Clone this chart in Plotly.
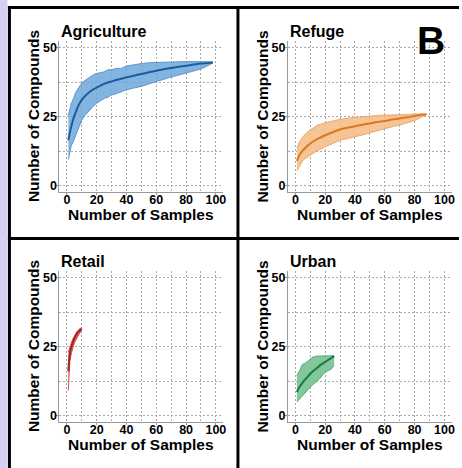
import plotly.graph_objects as go

# ---------------- data ----------------
panel_names = ["Agriculture", "Refuge", "Retail", "Urban"]

agri_x = [1, 2, 3, 4, 5, 6, 8, 10, 12, 15, 18, 20, 25, 28, 30, 33, 36, 40, 45, 50, 55, 60, 65, 70, 75, 80, 85, 90, 95, 98]
agri_mean = [16.4, 19.2, 21.5, 23.5, 25.2, 26.6, 29.2, 31.0, 32.3, 33.8, 34.9, 35.5, 36.8, 37.4, 37.7, 38.2, 38.6, 39.2, 39.8, 40.4, 41.0, 41.6, 42.1, 42.6, 43.0, 43.4, 43.8, 44.2, 44.4, 44.6]
agri_upper = [25.5, 28.0, 29.8, 31.0, 32.5, 33.8, 35.5, 37.1, 38.0, 39.2, 40.2, 40.6, 41.2, 42.0, 41.9, 42.4, 42.3, 43.3, 43.8, 44.2, 44.5, 44.6, 44.8, 44.9, 44.9, 44.9, 44.9, 44.9, 44.9, 44.8]
agri_lower = [9.4, 12.5, 14.5, 15.5, 17.0, 18.5, 21.2, 23.7, 25.3, 27.3, 28.9, 29.8, 31.5, 32.1, 32.8, 33.2, 33.9, 34.7, 35.3, 35.9, 36.8, 37.7, 38.5, 39.3, 40.0, 40.8, 41.5, 42.2, 43.5, 44.4]

refuge_x = [1, 2, 3, 5, 7, 10, 13, 15, 20, 25, 30, 35, 40, 45, 50, 55, 60, 65, 70, 75, 80, 85, 88]
refuge_mean = [8.9, 10.2, 11.2, 12.7, 13.8, 15.2, 16.3, 16.9, 18.2, 19.3, 20.3, 20.9, 21.5, 22.0, 22.5, 23.0, 23.4, 23.9, 24.3, 24.7, 25.2, 25.6, 25.8]
refuge_upper = [13.6, 15.0, 16.0, 17.6, 18.8, 20.1, 21.3, 21.9, 22.7, 23.4, 24.0, 24.4, 24.7, 25.0, 25.2, 25.4, 25.5, 25.5, 25.6, 25.7, 25.9, 26.0, 25.9]
refuge_lower = [5.3, 6.4, 7.3, 9.1, 9.9, 10.9, 12.2, 12.7, 14.0, 15.3, 16.4, 17.0, 17.6, 18.3, 19.1, 19.9, 20.7, 21.3, 21.9, 22.7, 23.5, 24.9, 25.7]

retail_x = [1, 2, 3, 4, 5, 6, 7, 8, 9, 10]
retail_mean = [16.0, 22.5, 24.8, 26.5, 27.8, 28.9, 29.8, 30.5, 31.0, 31.4]
retail_upper = [23.0, 25.0, 26.4, 27.7, 28.9, 29.8, 30.6, 31.2, 31.6, 31.7]
retail_lower = [9.0, 19.5, 22.4, 24.5, 26.1, 27.3, 28.4, 29.4, 30.3, 31.1]

urban_x = [1, 2, 3, 4, 5, 6, 7, 8, 10, 12, 14, 16, 18, 20, 22, 24, 26]
urban_mean = [8.5, 9.6, 10.5, 11.3, 12.0, 12.7, 13.3, 13.9, 15.1, 16.1, 17.0, 17.9, 18.7, 19.4, 20.1, 20.8, 21.5]
urban_upper = [14.6, 15.5, 16.3, 17.8, 18.6, 18.8, 19.1, 19.5, 20.5, 21.2, 21.5, 21.6, 21.6, 21.6, 21.6, 21.6, 21.7]
urban_lower = [4.9, 5.6, 6.2, 6.7, 7.3, 7.8, 8.5, 9.1, 10.3, 11.3, 12.2, 13.2, 14.5, 15.8, 16.2, 16.8, 18.2]

x_tick_vals = [0, 20, 40, 60, 80, 100]
x_tick_labels = ["0", "20", "40", "60", "80", "100"]
y_tick_vals = [0, 25, 50]
y_tick_labels = ["0", "25", "50"]
x_title = "Number of Samples"
y_title = "Number of Compounds"
panel_letter = "B"

# ---------------- styling ----------------
W, H = 462, 468
FONT = "Liberation Sans, Arial, sans-serif"
styles = [
    dict(line="#1d5c9c", edge="#4a86c4", fill="rgba(110,168,220,0.85)"),
    dict(line="#d97a20", edge="#e79a52", fill="rgba(245,190,138,0.9)"),
    dict(line="#a82020", edge="#cc3a3a", fill="rgba(226,110,110,0.85)"),
    dict(line="#1b7a42", edge="#3c9a62", fill="rgba(118,194,146,0.9)"),
]
series = [
    (agri_x, agri_mean, agri_upper, agri_lower),
    (refuge_x, refuge_mean, refuge_upper, refuge_lower),
    (retail_x, retail_mean, retail_upper, retail_lower),
    (urban_x, urban_mean, urban_upper, urban_lower),
]

# panel pixel geometry (plot areas)
col_left = [59.8, 289.8]
row_top = [40.6, 270.6]
pw, ph = 165.0, 151.8


def px2x(p):
    return p / W


def py2y(p):
    return 1 - p / H


fig = go.Figure()
layout = dict(
    width=W, height=H,
    margin=dict(l=0, r=0, t=0, b=0),
    paper_bgcolor="white", plot_bgcolor="white",
    showlegend=False,
    font=dict(family=FONT, color="black"),
)
annotations = []
grid_col = "#aaaaaa"
grid_dash = "2px,2px"

for i, (name, st, (xs, m, up, lo)) in enumerate(zip(panel_names, styles, series)):
    r, c = divmod(i, 2)
    sfx = "" if i == 0 else str(i + 1)
    xa, ya = "x" + sfx, "y" + sfx
    left, top = col_left[c], row_top[r]
    layout["xaxis" + sfx] = dict(
        domain=[px2x(left), px2x(left + pw)], anchor=ya, range=[-5, 105],
        tickmode="array", tickvals=x_tick_vals, ticktext=x_tick_labels,
        tickfont=dict(size=12.5, family=FONT, color="black", weight="bold"),
        ticklabelstandoff=-6,
        showgrid=True, gridcolor=grid_col, griddash=grid_dash, gridwidth=1,
        minor=dict(tickvals=[10, 30, 50, 70, 90], showgrid=True, gridcolor=grid_col,
                   griddash=grid_dash, gridwidth=1),
        showline=True, linecolor="#9a9a9a", linewidth=1,
        ticks="outside", ticklen=2, tickcolor="#9a9a9a",
        zeroline=False, fixedrange=True,
    )
    layout["yaxis" + sfx] = dict(
        domain=[py2y(top + ph), py2y(top)], anchor=xa, range=[-2.5, 52.5],
        tickmode="array", tickvals=y_tick_vals, ticktext=y_tick_labels,
        tickfont=dict(size=12.5, family=FONT, color="black", weight="bold"),
        ticklabelstandoff=-3,
        showgrid=True, gridcolor=grid_col, griddash=grid_dash, gridwidth=1,
        minor=dict(tickvals=[12.5, 37.5], showgrid=True, gridcolor=grid_col,
                   griddash=grid_dash, gridwidth=1),
        showline=True, linecolor="#9a9a9a", linewidth=1,
        ticks="outside", ticklen=2, tickcolor="#9a9a9a",
        zeroline=False, fixedrange=True,
    )
    fig.add_trace(go.Scatter(x=xs, y=lo, mode="lines", xaxis=xa, yaxis=ya,
                             line=dict(color=st["edge"], width=0.8), hoverinfo="skip"))
    fig.add_trace(go.Scatter(x=xs, y=up, mode="lines", xaxis=xa, yaxis=ya, fill="tonexty",
                             fillcolor=st["fill"], line=dict(color=st["edge"], width=0.8),
                             hoverinfo="skip"))
    fig.add_trace(go.Scatter(x=xs, y=m, mode="lines", xaxis=xa, yaxis=ya,
                             line=dict(color=st["line"], width=2, shape="spline")))

    # panel title
    annotations.append(dict(text=name, x=px2x(left), y=py2y(top - 9.5), xref="paper", yref="paper",
                            xanchor="left", yanchor="middle", showarrow=False,
                            font=dict(size=16, family=FONT, color="black", weight="bold")))
    # x axis title
    annotations.append(dict(text=x_title, x=px2x(left + pw / 2), y=py2y(top + ph + 22.5),
                            xref="paper", yref="paper", xanchor="center", yanchor="middle",
                            showarrow=False,
                            font=dict(size=15.5, family=FONT, color="black", weight="bold")))
    # y axis title
    annotations.append(dict(text=y_title, x=px2x(left - 26), y=py2y(top + ph / 2),
                            xref="paper", yref="paper", xanchor="center", yanchor="middle",
                            textangle=-90, showarrow=False,
                            font=dict(size=15.5, family=FONT, color="black", weight="bold")))

annotations.append(dict(text=panel_letter, x=px2x(434), y=py2y(40), xref="paper", yref="paper",
                        xanchor="center", yanchor="middle", showarrow=False,
                        font=dict(size=39, family=FONT, color="black", weight="bold")))
layout["annotations"] = annotations

shapes = [
    dict(type="rect", xref="paper", yref="paper", x0=0, x1=px2x(7.5), y0=0, y1=1,
         fillcolor="#d3d1f1", line=dict(width=0), layer="below"),
    dict(type="line", xref="paper", yref="paper", x0=px2x(9.5), x1=px2x(9.5), y0=0, y1=py2y(6),
         line=dict(color="black", width=3)),
    dict(type="line", xref="paper", yref="paper", x0=px2x(8), x1=1, y0=py2y(7.5), y1=py2y(7.5),
         line=dict(color="black", width=3)),
    dict(type="line", xref="paper", yref="paper", x0=px2x(239.5), x1=px2x(239.5), y0=0, y1=py2y(7.5),
         line=dict(color="black", width=3)),
    dict(type="line", xref="paper", yref="paper", x0=px2x(8), x1=1, y0=py2y(238.5), y1=py2y(238.5),
         line=dict(color="black", width=3)),
]
layout["shapes"] = shapes

fig.update_layout(**layout)
fig.write_html("out.html", config={"displayModeBar": False},
               post_script="document.body.style.margin='0';document.body.style.padding='0';")
